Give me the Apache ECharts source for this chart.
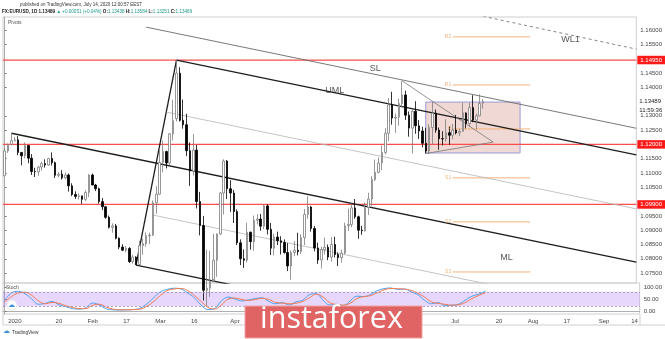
<!DOCTYPE html>
<html><head><meta charset="utf-8">
<script src="https://cdn.jsdelivr.net/npm/echarts@6/dist/echarts.min.js"></script>
<style>html,body{margin:0;padding:0;background:#fff}#c{width:665px;height:339px}</style>
</head><body><div id="c"></div>
<script>
// ---------- DATA ----------
// daily candles: [date, open, high, low, close]
const candles = [
['2019-12-27',1.1090,1.1188,1.1090,1.1177],['2019-12-30',1.1177,1.1203,1.1170,1.1200],['2019-12-31',1.1200,1.1239,1.1196,1.1213],
['2020-01-01',1.1213,1.1226,1.1210,1.1216],['2020-01-02',1.1216,1.1229,1.1162,1.1172],['2020-01-03',1.1172,1.1173,1.1127,1.1160],
['2020-01-06',1.1160,1.1207,1.1151,1.1196],['2020-01-07',1.1196,1.1196,1.1134,1.1152],['2020-01-08',1.1152,1.1166,1.1093,1.1105],
['2020-01-09',1.1105,1.1118,1.1086,1.1104],['2020-01-10',1.1104,1.1125,1.1090,1.1121],['2020-01-13',1.1121,1.1140,1.1108,1.1133],
['2020-01-14',1.1133,1.1148,1.1119,1.1128],['2020-01-15',1.1128,1.1153,1.1125,1.1151],['2020-01-16',1.1151,1.1172,1.1126,1.1136],
['2020-01-17',1.1136,1.1140,1.1083,1.1092],['2020-01-20',1.1092,1.1103,1.1085,1.1096],['2020-01-21',1.1096,1.1110,1.1077,1.1083],
['2020-01-22',1.1083,1.1102,1.1078,1.1093],['2020-01-23',1.1093,1.1098,1.1035,1.1055],['2020-01-24',1.1055,1.1064,1.1019,1.1025],
['2020-01-27',1.1025,1.1036,1.1009,1.1018],['2020-01-28',1.1018,1.1029,1.1007,1.1020],['2020-01-29',1.1020,1.1021,1.0992,1.1008],
['2020-01-30',1.1008,1.1040,1.1002,1.1032],['2020-01-31',1.1032,1.1096,1.1016,1.1093],['2020-02-03',1.1093,1.1098,1.1057,1.1058],
['2020-02-04',1.1058,1.1062,1.1037,1.1045],['2020-02-05',1.1045,1.1049,1.0993,1.1000],['2020-02-06',1.1000,1.1012,1.0970,1.0982],
['2020-02-07',1.0982,1.0985,1.0940,1.0945],['2020-02-10',1.0945,1.0951,1.0906,1.0910],['2020-02-11',1.0910,1.0924,1.0891,1.0915],
['2020-02-12',1.0915,1.0922,1.0868,1.0872],['2020-02-13',1.0872,1.0875,1.0834,1.0841],['2020-02-14',1.0841,1.0851,1.0827,1.0830],
['2020-02-17',1.0830,1.0845,1.0822,1.0836],['2020-02-18',1.0836,1.0841,1.0785,1.0790],['2020-02-19',1.0790,1.0814,1.0783,1.0806],
['2020-02-20',1.0806,1.0809,1.0778,1.0780],['2020-02-21',1.0780,1.0863,1.0778,1.0846],['2020-02-24',1.0846,1.0870,1.0814,1.0853],
['2020-02-25',1.0853,1.0892,1.0842,1.0881],['2020-02-26',1.0881,1.0891,1.0852,1.0883],['2020-02-27',1.0883,1.1004,1.0880,1.0996],
['2020-02-28',1.0996,1.1054,1.0957,1.1026],['2020-03-02',1.1026,1.1186,1.1023,1.1137],['2020-03-03',1.1137,1.1213,1.1102,1.1175],
['2020-03-04',1.1175,1.1178,1.1116,1.1135],['2020-03-05',1.1135,1.1240,1.1126,1.1237],['2020-03-06',1.1237,1.1356,1.1214,1.1283],
['2020-03-09',1.1290,1.1495,1.1280,1.1449],['2020-03-10',1.1449,1.1470,1.1280,1.1284],['2020-03-11',1.1284,1.1357,1.1255,1.1269],
['2020-03-12',1.1269,1.1307,1.1159,1.1178],['2020-03-13',1.1178,1.1207,1.1055,1.1107],['2020-03-16',1.1107,1.1236,1.1091,1.1180],
['2020-03-17',1.1180,1.1198,1.0976,1.1000],['2020-03-18',1.1000,1.1034,1.0882,1.0916],['2020-03-19',1.0916,1.0950,1.0654,1.0690],
['2020-03-20',1.0690,1.0832,1.0636,1.0697],['2020-03-23',1.0697,1.0827,1.0667,1.0722],['2020-03-24',1.0722,1.0887,1.0730,1.0795],
['2020-03-25',1.0795,1.0888,1.0737,1.0887],['2020-03-26',1.0887,1.1034,1.0883,1.1030],['2020-03-27',1.1030,1.1148,1.0955,1.1142],
['2020-03-30',1.1142,1.1145,1.1009,1.1045],['2020-03-31',1.1045,1.1075,1.0964,1.1030],['2020-04-01',1.1030,1.1041,1.0925,1.0965],
['2020-04-02',1.0965,1.0973,1.0848,1.0856],['2020-04-03',1.0856,1.0868,1.0778,1.0800],['2020-04-06',1.0800,1.0833,1.0768,1.0795],
['2020-04-07',1.0795,1.0926,1.0787,1.0893],['2020-04-08',1.0893,1.0895,1.0832,1.0860],['2020-04-09',1.0860,1.0951,1.0828,1.0935],
['2020-04-10',1.0935,1.0956,1.0920,1.0939],['2020-04-13',1.0939,1.0957,1.0898,1.0914],['2020-04-14',1.0914,1.0990,1.0904,1.0985],
['2020-04-15',1.0985,1.0991,1.0885,1.0903],['2020-04-16',1.0903,1.0925,1.0813,1.0837],['2020-04-17',1.0837,1.0887,1.0812,1.0876],
['2020-04-20',1.0876,1.0895,1.0848,1.0863],['2020-04-21',1.0863,1.0879,1.0815,1.0857],['2020-04-22',1.0857,1.0868,1.0818,1.0822],
['2020-04-23',1.0822,1.0855,1.0757,1.0775],['2020-04-24',1.0775,1.0829,1.0727,1.0822],['2020-04-27',1.0822,1.0862,1.0809,1.0830],
['2020-04-28',1.0830,1.0891,1.0812,1.0825],['2020-04-29',1.0825,1.0886,1.0817,1.0874],['2020-04-30',1.0874,1.0974,1.0848,1.0955],
['2020-05-01',1.0955,1.1019,1.0940,1.0981],['2020-05-04',1.0981,1.0985,1.0895,1.0906],['2020-05-05',1.0906,1.0915,1.0826,1.0838],
['2020-05-06',1.0838,1.0857,1.0782,1.0796],['2020-05-07',1.0796,1.0843,1.0766,1.0832],['2020-05-08',1.0832,1.0874,1.0815,1.0840],
['2020-05-11',1.0840,1.0850,1.0795,1.0806],['2020-05-12',1.0806,1.0875,1.0790,1.0850],['2020-05-13',1.0850,1.0877,1.0805,1.0815],
['2020-05-14',1.0815,1.0822,1.0775,1.0804],['2020-05-15',1.0804,1.0832,1.0786,1.0820],['2020-05-18',1.0820,1.0926,1.0815,1.0915],
['2020-05-19',1.0915,1.0975,1.0897,1.0920],['2020-05-20',1.0920,1.0993,1.0911,1.0978],['2020-05-21',1.0978,1.1009,1.0940,1.0947],
['2020-05-22',1.0947,1.0951,1.0870,1.0900],['2020-05-25',1.0900,1.0915,1.0884,1.0898],['2020-05-26',1.0898,1.0997,1.0895,1.0979],
['2020-05-27',1.0979,1.1031,1.0953,1.1009],['2020-05-28',1.1009,1.1089,1.0985,1.1077],['2020-05-29',1.1077,1.1147,1.1072,1.1102],
['2020-06-01',1.1102,1.1154,1.1099,1.1135],['2020-06-02',1.1135,1.1197,1.1110,1.1172],['2020-06-03',1.1172,1.1257,1.1165,1.1239],
['2020-06-04',1.1239,1.1362,1.1212,1.1338],['2020-06-05',1.1338,1.1384,1.1269,1.1292],['2020-06-08',1.1292,1.1308,1.1241,1.1295],
['2020-06-09',1.1295,1.1360,1.1265,1.1343],['2020-06-10',1.1343,1.1422,1.1330,1.1373],['2020-06-11',1.1373,1.1388,1.1285,1.1302],
['2020-06-12',1.1302,1.1315,1.1227,1.1257],['2020-06-15',1.1257,1.1322,1.1168,1.1316],['2020-06-16',1.1316,1.1351,1.1237,1.1265],
['2020-06-17',1.1265,1.1285,1.1219,1.1247],['2020-06-18',1.1247,1.1262,1.1190,1.1204],['2020-06-19',1.1204,1.1258,1.1168,1.1177],
['2020-06-22',1.1177,1.1270,1.1166,1.1259],['2020-06-23',1.1259,1.1349,1.1200,1.1309],['2020-06-24',1.1309,1.1322,1.1241,1.1250],
['2020-06-25',1.1250,1.1259,1.1181,1.1220],['2020-06-26',1.1220,1.1246,1.1196,1.1219],['2020-06-29',1.1219,1.1288,1.1209,1.1241],
['2020-06-30',1.1241,1.1263,1.1199,1.1232],['2020-07-01',1.1232,1.1271,1.1218,1.1250],['2020-07-02',1.1250,1.1303,1.1235,1.1240],
['2020-07-03',1.1240,1.1255,1.1229,1.1245],['2020-07-06',1.1245,1.1346,1.1245,1.1310],['2020-07-07',1.1310,1.1312,1.1256,1.1273],
['2020-07-08',1.1273,1.1345,1.1261,1.1329],['2020-07-09',1.1329,1.1372,1.1278,1.1285],['2020-07-10',1.1285,1.1308,1.1253,1.1300],
['2020-07-13',1.1300,1.1375,1.1298,1.1343],['2020-07-14',1.13438,1.13584,1.13251,1.13489]
];
// stochastic samples
const stochDates = ['2019-12-27','2019-12-31','2020-01-02','2020-01-06','2020-01-08','2020-01-10','2020-01-14','2020-01-16','2020-01-20','2020-01-22','2020-01-24','2020-01-28','2020-01-30','2020-02-03','2020-02-05','2020-02-07','2020-02-11','2020-02-13','2020-02-17','2020-02-19','2020-02-21','2020-02-25','2020-02-27','2020-03-02','2020-03-04','2020-03-06','2020-03-10','2020-03-12','2020-03-16','2020-03-18','2020-03-20','2020-03-24','2020-03-26','2020-03-30','2020-04-01','2020-04-03','2020-04-07','2020-04-09','2020-04-13','2020-04-15','2020-04-17','2020-04-21','2020-04-23','2020-04-27','2020-04-29','2020-05-01','2020-05-05','2020-05-07','2020-05-11','2020-05-13','2020-05-15','2020-05-19','2020-05-21','2020-05-25','2020-05-27','2020-05-29','2020-06-02','2020-06-04','2020-06-08','2020-06-10','2020-06-12','2020-06-16','2020-06-18','2020-06-22','2020-06-24','2020-06-26','2020-06-30','2020-07-02','2020-07-06','2020-07-08','2020-07-10','2020-07-14'];
const stochK = [45,75,82,72,50,28,32,40,26,18,10,8,14,33,25,9,5,4,5,6,12,30,55,80,90,95,92,75,55,25,6,10,42,58,50,42,46,52,55,40,30,35,25,38,45,68,72,45,25,28,22,42,62,60,68,85,93,96,90,92,80,68,45,30,35,22,24,28,45,62,70,84];
const stochD = [38,60,75,78,65,42,30,36,32,22,15,10,10,24,28,16,8,5,5,6,8,20,40,65,85,92,94,85,65,40,15,8,25,50,54,48,44,48,53,48,36,33,30,32,40,55,70,58,35,27,25,32,52,60,64,76,88,94,93,91,86,74,58,38,32,28,24,26,35,52,65,76];
// price levels
const priceTicks = [1.075,1.08,1.085,1.09,1.095,1.105,1.11,1.115,1.125,1.13,1.14,1.145,1.155,1.16];
const redLevels = [1.1495,1.12,1.099];
const redLabels = ['1.14950','1.12000','1.09900'];
const lastPrice = 1.13489, countdown = '11:59:36';
// date axis labels
const tickDates = ['2020-01-01','2020-01-20','2020-02-03','2020-02-17','2020-03-02','2020-03-16','2020-04-01','2020-04-20','2020-05-01','2020-05-18','2020-06-01','2020-06-15','2020-07-01','2020-07-20','2020-08-03','2020-08-17','2020-09-01','2020-09-14'];
const tickTexts = ['2020','20','Feb','17','Mar','16','Apr','20','May','18','Jun','15','Jul','20','Aug','17','Sep','14'];
// drawn trend lines: two anchors [date, price]
const lineFrom = [['2020-02-20',1.0778],['2020-03-09',1.1495],['2019-12-31',1.1239],['2020-02-20',1.0778],['2020-02-25',1.1610],['2020-03-04',1.1313],['2020-02-27',1.0953],['2020-07-14',1.1648],['2020-06-10',1.1422],['2020-06-19',1.1168]];
const lineTo   = [['2020-03-09',1.1495],['2020-07-14',1.1274],['2020-07-14',1.0899],['2020-07-14',1.0528],['2020-07-14',1.1367],['2020-07-14',1.1085],['2020-07-14',1.0715],['2020-09-14',1.1537],['2020-07-17',1.1208],['2020-07-17',1.1208]];
const lineExtend = [false,true,true,true,true,true,true,true,false,false];
const lineKind = ['bold','bold','bold','bold','thin','faint','faint','dash','tri','tri'];
const annTexts = ['SL','UML','ML','WL1'];
const annAt = [['2020-05-29',1.1467],['2020-05-13',1.1390],['2020-07-23',1.0806],['2020-08-19',1.1565]];
const pivotNames = ['R2','R1','P','S1','S2','S3'];
const pivotValues = [1.1576,1.1408,1.1254,1.1083,1.0929,1.0754];
const pivotSpan = ['2020-07-01','2020-08-03'];
const boxFrom = ['2020-06-19',1.1348], boxTo = ['2020-07-29',1.1170];

// ---------- BUILD ----------
const categories = [];
(function(){ const d = new Date(Date.UTC(2019,11,27));
  while (categories.length < 188) { const w = d.getUTCDay(); if (w!==0 && w!==6) categories.push(d.toISOString().slice(0,10)); d.setUTCDate(d.getUTCDate()+1); } })();
const pos = dt => categories.indexOf(dt);
const N = categories.length;
const candleMap = {}; candles.forEach(r => candleMap[r[0]] = [r[1], r[4], r[3], r[2]]);
const candleData = categories.map(c => candleMap[c] || '-');
const tickMap = {}; tickDates.forEach((d,i)=> tickMap[d] = tickTexts[i]);
const FONT = 'Liberation Sans';
const styles = {
  bold:{color:'#1e1e1e', width:1.3}, thin:{color:'#6a6a6a', width:0.9}, faint:{color:'#b5b5b5', width:0.8},
  dash:{color:'#777', width:0.9, type:[3,3]}, tri:{color:'#777', width:0.8}
};
const series = [];
series.push({
  type:'candlestick', xAxisIndex:0, yAxisIndex:0, data:candleData, barWidth:2, z:4,
  itemStyle:{color:'#ffffff', color0:'#000000', borderColor:'#7d7d7d', borderColor0:'#000000', borderWidth:0.8}
});
redLevels.forEach((v,i)=>{
  series.push({type:'line', xAxisIndex:2, yAxisIndex:0, symbol:'none', silent:true, data:[[-0.5,v],[N-0.5,v]],
    lineStyle:{color:'#ff4d4d', width:1.2}, z:3,
    endLabel:{show:true, distance:1, formatter:redLabels[i], color:'#fff', backgroundColor:'#ff1a1a', padding:[1.5,3,1,3], fontSize:6, fontFamily:FONT}});
});
series.push({type:'line', xAxisIndex:2, yAxisIndex:0, symbol:'none', silent:true, data:[[-0.5,lastPrice],[N-0.5,lastPrice]],
  lineStyle:{opacity:0}, z:3,
  endLabel:{show:true, distance:3, formatter:lastPrice.toFixed(5)+'\n'+countdown, color:'#222', fontSize:6, lineHeight:9, fontFamily:FONT, offset:[0,4]}});
lineFrom.forEach((a,i)=>{
  const x1 = pos(a[0]), y1 = a[1], x2 = pos(lineTo[i][0]), y2 = lineTo[i][1];
  const pts = [[x1,y1],[x2,y2]];
  if (lineExtend[i]) { const xe = N - 0.5; pts[1] = [xe, y1 + (y2-y1)/(x2-x1)*(xe-x1)]; }
  const s = styles[lineKind[i]];
  series.push({type:'line', xAxisIndex:2, yAxisIndex:0, data:pts, symbol:'none', silent:true, clip:true,
    lineStyle:{color:s.color, width:s.width, type:s.type||'solid'}, z:3});
});
pivotValues.forEach((v,i)=>{
  series.push({type:'line', xAxisIndex:2, yAxisIndex:0, symbol:'none', silent:true,
    data:[[pos(pivotSpan[0]), v], [pos(pivotSpan[1]), v]], lineStyle:{color:'#f3b27a', width:1}, z:2});
});
series.push({type:'line', xAxisIndex:2, yAxisIndex:0, data:[], silent:true,
  markArea:{silent:true, itemStyle:{color:'rgba(200,120,100,0.28)', borderColor:'#9a9ad8', borderWidth:1},
    data:[[{coord:[pos(boxFrom[0]), boxFrom[1]]},{coord:[pos(boxTo[0]), boxTo[1]]}]]}});
const annData = annAt.map((a,i)=>({value:[pos(a[0]), a[1]], label:{show:true, position:'inside', formatter:annTexts[i], color:'#2a2a2a', fontSize:9, fontFamily:FONT}}))
  .concat(pivotValues.map((v,i)=>({value:[pos(pivotSpan[0]), v], label:{show:true, position:'left', distance:1, formatter:pivotNames[i], color:'#e8a060', fontSize:5, fontFamily:FONT}})));
series.push({type:'scatter', xAxisIndex:2, yAxisIndex:0, symbolSize:1, silent:true, itemStyle:{color:'rgba(0,0,0,0)'}, data:annData, z:6});
series.push({type:'line', xAxisIndex:3, yAxisIndex:1, symbol:'none', smooth:0.4, silent:true,
  data: stochDates.map((d,i)=>[pos(d), stochK[i]]), lineStyle:{color:'#4da3f2', width:1},
  markArea:{silent:true, itemStyle:{color:'rgba(190,140,245,0.35)'}, data:[[{yAxis:20},{yAxis:80}]]},
  markLine:{symbol:'none', silent:true, label:{show:false}, lineStyle:{color:'#9c8fb0', type:[2,2], width:0.8}, data:[{yAxis:80},{yAxis:20}]}});
series.push({type:'line', xAxisIndex:3, yAxisIndex:1, symbol:'none', smooth:0.4, silent:true,
  data: stochDates.map((d,i)=>[pos(d), stochD[i]]), lineStyle:{color:'#f27a4e', width:1}});

const axisLbl = {fontSize:6, color:'#444', fontFamily:FONT};
const option = {
  animation:false, backgroundColor:'#fff',
  grid:[{left:3, top:17, width:637, height:266, show:true, borderColor:'#cfcfcf', borderWidth:1},
        {left:3, top:283, width:637, height:31, show:true, borderColor:'#cfcfcf', borderWidth:1}],
  xAxis:[
    {type:'category', gridIndex:0, data:categories, boundaryGap:true, axisLine:{show:false}, axisTick:{show:false}, axisLabel:{show:false}, splitLine:{show:false}},
    {type:'category', gridIndex:1, data:categories, boundaryGap:true, axisLine:{show:true, lineStyle:{color:'#b0b0b0'}}, axisTick:{show:false},
      axisLabel:Object.assign({interval:(i,v)=> tickMap[v]!==undefined, formatter:v=> tickMap[v]||'', margin:4}, axisLbl), splitLine:{show:false}},
    {type:'value', gridIndex:0, min:-0.5, max:N-0.5, show:false},
    {type:'value', gridIndex:1, min:-0.5, max:N-0.5, show:false}
  ],
  yAxis:[
    {type:'value', gridIndex:0, position:'right', min:1.071538, max:1.164545, scale:true,
      axisLine:{show:true, lineStyle:{color:'#aaa'}}, axisTick:{show:true, length:2, customValues:priceTicks, lineStyle:{color:'#777'}},
      axisLabel:Object.assign({customValues:priceTicks, formatter:v=>v.toFixed(5), margin:4}, axisLbl), splitLine:{show:false}},
    {type:'value', gridIndex:1, position:'right', min:-12.5, max:116.7,
      axisLine:{show:true, lineStyle:{color:'#aaa'}}, axisTick:{show:true, length:2, customValues:[0,50,100], lineStyle:{color:'#777'}},
      axisLabel:Object.assign({customValues:[0,50,100], formatter:v=>v.toFixed(2), margin:4}, axisLbl), splitLine:{show:false}}
  ],
  series:series,
  graphic:[
    {type:'text', left:20, top:2, style:{text:'published on TradingView.com, July 14, 2020 12:00:57 EEST', fontSize:4.5, fill:'#333', fontFamily:FONT}},
    {type:'text', left:2, top:9, style:{text:'{b|FX:EURUSD, 1D} {b|1.13489} {g|▲ +0.00051 (+0.04%)} {b|O:}{g|1.13438} {b|H:}{g|1.13584} {b|L:}{g|1.13251} {b|C:}{g|1.13489}',
      fontSize:4.6, fontFamily:FONT, rich:{b:{fill:'#222', fontWeight:'bold', fontSize:4.6}, g:{fill:'#1f9a8a', fontSize:4.6}}}},
    {type:'text', left:8, top:20, style:{text:'Pivots', fontSize:5, fill:'#555', fontFamily:FONT}},
    {type:'text', left:6, top:285, style:{text:'Stoch', fontSize:5, fill:'#555', fontFamily:FONT}, z:10},
    {type:'circle', shape:{cx:12, cy:305, r:5}, style:{fill:'#fff', stroke:'#ddd', lineWidth:0.5}, z:10},
    {type:'text', left:8, top:302, style:{text:'☁', fontSize:7, fill:'#3d8fd6', fontFamily:'DejaVu Sans'}, z:11},
    {type:'line', shape:{x1:3, y1:325, x2:665, y2:325}, style:{stroke:'#cfcfcf', lineWidth:1}},
    {type:'line', shape:{x1:640, y1:314, x2:640, y2:325}, style:{stroke:'#cfcfcf', lineWidth:1}},
    {type:'line', shape:{x1:3, y1:314, x2:3, y2:325}, style:{stroke:'#cfcfcf', lineWidth:1}},
    {type:'text', left:3, top:328, style:{text:'☁', fontSize:7, fill:'#3d8fd6', fontFamily:'DejaVu Sans'}},
    {type:'text', left:12, top:330, style:{text:'TradingView', fontSize:4.8, fill:'#333', fontFamily:FONT}},
    {type:'rect', shape:{x:245, y:306, width:177, height:32}, style:{fill:'#e06464', stroke:'#f2a0a0', lineWidth:1}, z:20},
    {type:'text', left:260, top:304, style:{text:'instaforex', fontSize:30.5, fill:'#fff', fontFamily:'Open Sans'}, z:21}
  ]
};
const chart = echarts.init(document.getElementById('c'), null, {renderer:'canvas'});
chart.setOption(option);
</script></body></html>
